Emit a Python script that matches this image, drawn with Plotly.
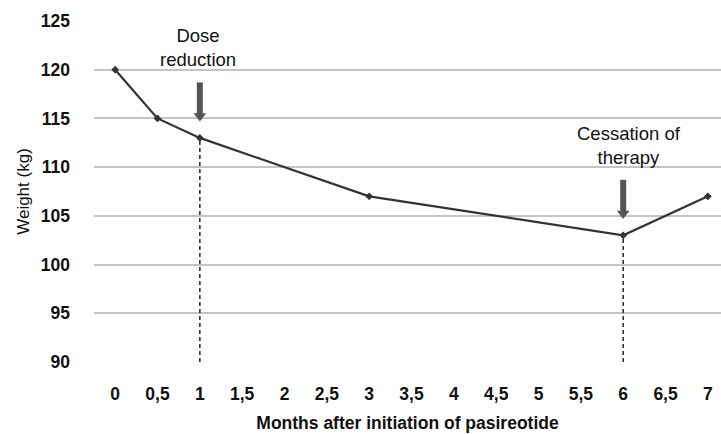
import plotly.graph_objects as go

# Data
tick_months = [0, 0.5, 1, 1.5, 2, 2.5, 3, 3.5, 4, 4.5, 5, 5.5, 6, 6.5, 7]
tick_labels = ["0", "0,5", "1", "1,5", "2", "2,5", "3", "3,5", "4", "4,5", "5", "5,5", "6", "6,5", "7"]
months = [0, 0.5, 1, 3, 6, 7]
weights = [120, 115, 113, 107, 103, 107]
y_ticks = [90, 95, 100, 105, 110, 115, 120, 125]

event_months = [1, 6]
event_labels = ["Dose<br>reduction", "Cessation of<br>therapy"]
event_weights = [113, 103]
arrow_tip = [114.8, 104.8]
arrow_tail = [118.7, 108.7]
label_y = [122.3, 112.2]
label_shift = [-2, 6]

FONT = "Liberation Sans, Arial, sans-serif"

fig = go.Figure()

# dashed vertical lines
for m, w in zip(event_months, event_weights):
    fig.add_trace(go.Scatter(
        x=[m, m], y=[y_ticks[0], w], mode="lines",
        line=dict(color="#333333", width=1.6, dash="4px,3px"),
        showlegend=False, hoverinfo="skip"))

fig.add_trace(go.Scatter(
    x=months, y=weights, mode="lines+markers",
    line=dict(color="#333333", width=2.2),
    marker=dict(symbol="diamond", size=6, color="#333333"),
    showlegend=False))

# arrows
for m, tip, tail in zip(event_months, arrow_tip, arrow_tail):
    fig.add_trace(go.Scatter(
        x=[m, m], y=[tail, tip + 0.6], mode="lines",
        line=dict(color="#555555", width=6),
        showlegend=False, hoverinfo="skip"))
    fig.add_trace(go.Scatter(
        x=[m], y=[tip + 0.45], mode="markers",
        marker=dict(symbol="triangle-down", size=11, color="#555555"),
        showlegend=False, hoverinfo="skip"))

for m, lab, ly, sh in zip(event_months, event_labels, label_y, label_shift):
    fig.add_annotation(x=m, y=ly, text=lab, showarrow=False, xshift=sh,
                       font=dict(family=FONT, size=18.5, color="#111111"),
                       xanchor="center", yanchor="middle")

fig.update_layout(
    width=721, height=434,
    margin=dict(l=94, r=0, t=21, b=72),
    paper_bgcolor="white", plot_bgcolor="white",
    font=dict(family=FONT, color="#111111"),
)
fig.update_xaxes(
    range=[-0.25, 7.155], tickvals=tick_months, ticktext=tick_labels,
    showgrid=False, zeroline=False, showline=False,
    tickfont=dict(family=FONT, size=17.5, color="#111111", weight="bold"),
    ticklabelstandoff=19,
    title=dict(text="Months after initiation of pasireotide",
               font=dict(family=FONT, size=17.5, color="#111111", weight="bold"),
               standoff=14),
)
fig.update_yaxes(
    range=[90, 125], tickvals=y_ticks,
    showgrid=True, gridcolor="#c4c4c4", gridwidth=1.6,
    zeroline=False, showline=False,
    tickfont=dict(family=FONT, size=17.5, color="#111111", weight="bold"),
    ticklabelstandoff=23,
    title=dict(text="Weight (kg)", font=dict(family=FONT, size=17, color="#111111"),
               standoff=6),
)

fig.write_html("out.html", config={"displayModeBar": False},
               post_script="document.body.style.margin='0';document.body.style.overflow='hidden';")
